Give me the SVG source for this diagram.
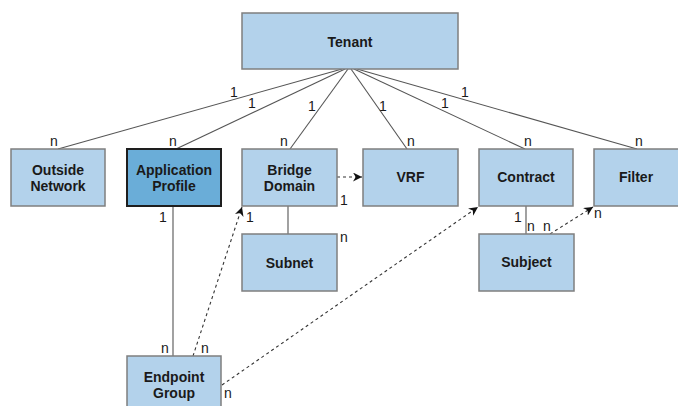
<svg xmlns="http://www.w3.org/2000/svg" width="678" height="406" viewBox="0 0 678 406">
<style>
.box{fill:#b3d2eb;stroke:#7f7f7f;stroke-width:1.5}
.dark{fill:#6aadd8;stroke:#1e1e1e;stroke-width:2}
.t{font-family:"Liberation Sans",Arial,sans-serif;font-weight:bold;font-size:14px;fill:#1a1a1a;text-anchor:middle}
.l{font-family:"Liberation Sans",Arial,sans-serif;font-size:14px;fill:#1a1a1a;text-anchor:middle}
.c{stroke:#555;stroke-width:1.1;fill:none}
.d{stroke:#333;stroke-width:1.1;fill:none;stroke-dasharray:3 3}
</style>
<defs>
<marker id="ah" viewBox="0 0 10 10" refX="10" refY="5" markerWidth="9" markerHeight="9" orient="auto" markerUnits="userSpaceOnUse">
<path d="M0,0 L10,5 L0,10 L3,5 Z" fill="#111"/>
</marker>
</defs>
<rect width="678" height="406" fill="#fff"/>
<g id="connectors">
<line class="c" x1="342" y1="69" x2="58" y2="149"/>
<line class="c" x1="345" y1="69" x2="176" y2="149"/>
<line class="c" x1="348" y1="69" x2="290" y2="149"/>
<line class="c" x1="351" y1="69" x2="407" y2="149"/>
<line class="c" x1="354" y1="69" x2="525" y2="149"/>
<line class="c" x1="357" y1="69" x2="637" y2="149"/>
<line class="c" x1="288" y1="206" x2="288" y2="234"/>
<line class="c" x1="173" y1="206" x2="173" y2="356"/>
<line class="c" x1="526" y1="206" x2="526" y2="234"/>
<line class="d" x1="337" y1="177" x2="362" y2="177" marker-end="url(#ah)"/>
<line class="d" x1="193" y1="356" x2="242" y2="207" marker-end="url(#ah)"/>
<line class="d" x1="222" y1="385" x2="478" y2="207" marker-end="url(#ah)"/>
<line class="d" x1="550" y1="234" x2="593" y2="207" marker-end="url(#ah)"/>
</g>
<g id="tenant"><rect class="box" x="242" y="13" width="216" height="56"/><text class="t" x="350" y="47">Tenant</text></g>
<g id="outside-network"><rect class="box" x="11" y="149" width="94" height="57"/><text class="t" x="58" y="175">Outside</text><text class="t" x="58" y="191">Network</text></g>
<g id="application-profile"><rect class="dark" x="127" y="149" width="94" height="57"/><text class="t" x="174" y="175">Application</text><text class="t" x="174" y="191">Profile</text></g>
<g id="bridge-domain"><rect class="box" x="242" y="149" width="95" height="57"/><text class="t" x="289.5" y="175">Bridge</text><text class="t" x="289.5" y="191">Domain</text></g>
<g id="vrf"><rect class="box" x="363" y="149" width="95" height="57"/><text class="t" x="410.5" y="182">VRF</text></g>
<g id="contract"><rect class="box" x="479" y="149" width="94" height="57"/><text class="t" x="526" y="182">Contract</text></g>
<g id="filter"><rect class="box" x="594" y="149" width="96" height="57"/><text class="t" x="636" y="182">Filter</text></g>
<g id="subnet"><rect class="box" x="242" y="234" width="95" height="57"/><text class="t" x="289.5" y="268">Subnet</text></g>
<g id="subject"><rect class="box" x="479" y="234" width="95" height="57"/><text class="t" x="526.5" y="267">Subject</text></g>
<g id="endpoint-group"><rect class="box" x="127" y="356" width="94" height="60"/><text class="t" x="174" y="382">Endpoint</text><text class="t" x="174" y="398">Group</text></g>
<g id="labels">
<text class="l" x="234" y="97">1</text>
<text class="l" x="252" y="108">1</text>
<text class="l" x="312" y="111">1</text>
<text class="l" x="383" y="111">1</text>
<text class="l" x="445" y="108">1</text>
<text class="l" x="465" y="97">1</text>
<text class="l" x="54" y="146">n</text>
<text class="l" x="173" y="146">n</text>
<text class="l" x="284" y="146">n</text>
<text class="l" x="411" y="146">n</text>
<text class="l" x="528" y="146">n</text>
<text class="l" x="639" y="146">n</text>
<text class="l" x="344" y="205">1</text>
<text class="l" x="250" y="222">1</text>
<text class="l" x="344" y="242">n</text>
<text class="l" x="163" y="222">1</text>
<text class="l" x="165" y="353">n</text>
<text class="l" x="205" y="353">n</text>
<text class="l" x="228" y="398">n</text>
<text class="l" x="518" y="222">1</text>
<text class="l" x="531" y="231">n</text>
<text class="l" x="547" y="231">n</text>
<text class="l" x="598" y="218">n</text>
</g>
</svg>
